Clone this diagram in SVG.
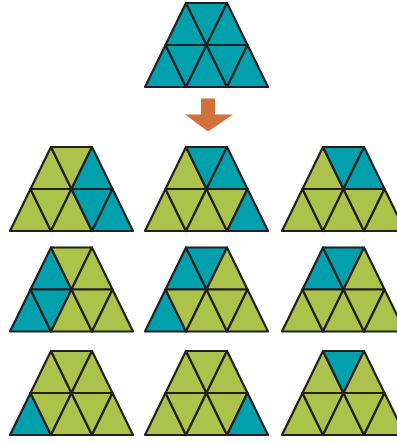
<svg xmlns="http://www.w3.org/2000/svg" xmlns:xlink="http://www.w3.org/1999/xlink" width="397" height="443" viewBox="0 0 397 443">
<style>
.t{fill:#00A1AC}
.g{fill:#ADC24A}
polygon{stroke:#231F20;stroke-width:2.2;stroke-linejoin:round}
.arrow{fill:#D0703A;stroke:none}
</style>
<defs>
<polygon id="T1" points="20.5,42 41,0 61.5,42"/>
<polygon id="T2" points="41,0 82,0 61.5,42"/>
<polygon id="T3" points="61.5,42 82,0 102.5,42"/>
<polygon id="B1" points="0,84 20.5,42 41,84"/>
<polygon id="B2" points="20.5,42 61.5,42 41,84"/>
<polygon id="B3" points="41,84 61.5,42 82,84"/>
<polygon id="B4" points="61.5,42 102.5,42 82,84"/>
<polygon id="B5" points="82,84 102.5,42 123,84"/>
</defs>
<g id="top" transform="translate(145,3)">
<use href="#T1" class="t"/><use href="#T2" class="t"/><use href="#T3" class="t"/>
<use href="#B1" class="t"/><use href="#B2" class="t"/><use href="#B3" class="t"/><use href="#B4" class="t"/><use href="#B5" class="t"/>
</g>
<g id="connectors">
<polygon class="arrow" points="201,98.5 215,98.5 215,114.5 233,114.5 208,131.5 185,114.5 201,114.5"/>
</g>
<g id="r1c1" transform="translate(10,147)">
<use href="#T1" class="g"/><use href="#T2" class="g"/><use href="#T3" class="t"/>
<use href="#B1" class="g"/><use href="#B2" class="g"/><use href="#B3" class="g"/><use href="#B4" class="t"/><use href="#B5" class="t"/>
</g>
<g id="r1c2" transform="translate(145,147)">
<use href="#T1" class="g"/><use href="#T2" class="t"/><use href="#T3" class="t"/>
<use href="#B1" class="g"/><use href="#B2" class="g"/><use href="#B3" class="g"/><use href="#B4" class="g"/><use href="#B5" class="t"/>
</g>
<g id="r1c3" transform="translate(282,147)">
<use href="#T1" class="g"/><use href="#T2" class="t"/><use href="#T3" class="t"/>
<use href="#B1" class="g"/><use href="#B2" class="g"/><use href="#B3" class="g"/><use href="#B4" class="g"/><use href="#B5" class="g"/>
</g>
<g id="r2c1" transform="translate(10,247.5)">
<use href="#T1" class="t"/><use href="#T2" class="g"/><use href="#T3" class="g"/>
<use href="#B1" class="t"/><use href="#B2" class="t"/><use href="#B3" class="g"/><use href="#B4" class="g"/><use href="#B5" class="g"/>
</g>
<g id="r2c2" transform="translate(145,247.5)">
<use href="#T1" class="t"/><use href="#T2" class="t"/><use href="#T3" class="g"/>
<use href="#B1" class="t"/><use href="#B2" class="g"/><use href="#B3" class="g"/><use href="#B4" class="g"/><use href="#B5" class="g"/>
</g>
<g id="r2c3" transform="translate(282,247.5)">
<use href="#T1" class="t"/><use href="#T2" class="t"/><use href="#T3" class="g"/>
<use href="#B1" class="g"/><use href="#B2" class="g"/><use href="#B3" class="g"/><use href="#B4" class="g"/><use href="#B5" class="g"/>
</g>
<g id="r3c1" transform="translate(10,351)">
<use href="#T1" class="g"/><use href="#T2" class="g"/><use href="#T3" class="g"/>
<use href="#B1" class="t"/><use href="#B2" class="g"/><use href="#B3" class="g"/><use href="#B4" class="g"/><use href="#B5" class="g"/>
</g>
<g id="r3c2" transform="translate(145,351)">
<use href="#T1" class="g"/><use href="#T2" class="g"/><use href="#T3" class="g"/>
<use href="#B1" class="g"/><use href="#B2" class="g"/><use href="#B3" class="g"/><use href="#B4" class="g"/><use href="#B5" class="t"/>
</g>
<g id="r3c3" transform="translate(282,351)">
<use href="#T1" class="g"/><use href="#T2" class="t"/><use href="#T3" class="g"/>
<use href="#B1" class="g"/><use href="#B2" class="g"/><use href="#B3" class="g"/><use href="#B4" class="g"/><use href="#B5" class="g"/>
</g>
</svg>
